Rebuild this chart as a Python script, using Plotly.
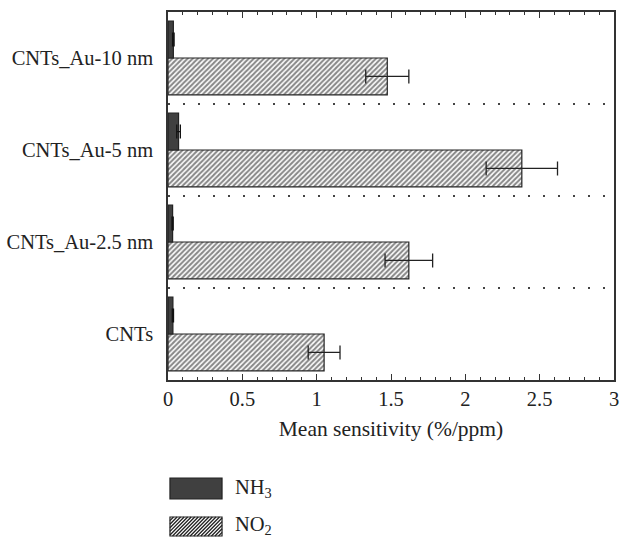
import plotly.graph_objects as go

categories = ["CNTs", "CNTs_Au-2.5 nm", "CNTs_Au-5 nm", "CNTs_Au-10 nm"]
no2_values = [1.05, 1.62, 2.38, 1.475]
no2_errors = [0.107, 0.16, 0.24, 0.145]
nh3_values = [0.033, 0.031, 0.071, 0.036]
nh3_errors = [0.004, 0.004, 0.012, 0.005]
x_ticks = [0, 0.5, 1, 1.5, 2, 2.5, 3]
x_tick_labels = ["0", "0.5", "1", "1.5", "2", "2.5", "3"]
series_names = ["NH<sub>3</sub>", "NO<sub>2</sub>"]

W, H = 626, 538
L, R, T, B = 165, 7, 12, 158
FONT = "Liberation Serif"
FS = 20.5
AX = "#333333"

fig = go.Figure()
fig.add_trace(go.Bar(
    y=categories, x=no2_values, orientation="h", name="NO2",
    marker=dict(color="white", line=dict(color="#222", width=1.2),
                pattern=dict(shape="/", size=3.6, solidity=0.55, fgcolor="#111", bgcolor="white")),
    error_x=dict(type="data", array=no2_errors, color="#222", thickness=1.3, width=7),
    showlegend=False,
))
fig.add_trace(go.Bar(
    y=categories, x=nh3_values, orientation="h", name="NH3",
    marker=dict(color="#404040", line=dict(color="#222", width=1.2)),
    error_x=dict(type="data", array=nh3_errors, color="#111", thickness=1.3, width=7),
    showlegend=False,
))

# helper: pixel -> paper
def px(x):
    return (x - L) / (W - L - R)

def py(y):
    return (H - B - y) / (H - T - B)

shapes = []
sx0, sx1 = 167, 220
ny0, ny1 = 478, 499
oy0, oy1 = 517, 536
shapes.append(dict(type="rect", xref="paper", yref="paper",
                   x0=px(sx0), x1=px(sx1), y0=py(ny1), y1=py(ny0),
                   fillcolor="#404040", line=dict(color="#222", width=1.2)))
segs = []
step = 3.6
h = oy1 - oy0
k = sx0 - h
while k < sx1:
    xa, ya = k, oy1
    xb, yb = k + h, oy0
    if xa < sx0:
        ya = oy1 - (sx0 - k)
        xa = sx0
    if xb > sx1:
        yb = oy0 + (xb - sx1)
        xb = sx1
    if xb > xa:
        segs.append(f"M{px(xa)},{py(ya)}L{px(xb)},{py(yb)}")
    k += step
shapes.append(dict(type="path", xref="paper", yref="paper", path="".join(segs),
                   line=dict(color="#222", width=1.3)))
shapes.append(dict(type="rect", xref="paper", yref="paper",
                   x0=px(sx0), x1=px(sx1), y0=py(oy1), y1=py(oy0),
                   fillcolor="rgba(0,0,0,0)", line=dict(color="#222", width=1.2)))

annotations = [
    dict(xref="paper", yref="paper", x=px(231), y=py((ny0 + ny1) / 2), text=series_names[0],
         showarrow=False, xanchor="left", yanchor="middle", font=dict(family=FONT, size=FS, color="#222")),
    dict(xref="paper", yref="paper", x=px(231), y=py((oy0 + oy1) / 2 - 1), text=series_names[1],
         showarrow=False, xanchor="left", yanchor="middle", font=dict(family=FONT, size=FS, color="#222")),
]

fig.update_layout(
    width=W, height=H,
    margin=dict(l=L, r=R, t=T, b=B, pad=0),
    paper_bgcolor="white", plot_bgcolor="white",
    barmode="group", bargap=0.2, bargroupgap=0,
    font=dict(family=FONT, size=FS, color="#222"),
    showlegend=False,
    shapes=shapes, annotations=annotations,
    xaxis=dict(
        range=[0, 3], tickvals=x_ticks, ticktext=x_tick_labels,
        ticks="inside", ticklen=6, tickwidth=1.2, tickcolor=AX,
        minor=dict(dtick=0.1, ticks="inside", ticklen=3, tickwidth=1.2, tickcolor=AX, showgrid=False),
        showline=True, linecolor=AX, linewidth=1.5, mirror="ticks",
        showgrid=False, zeroline=False,
        title=dict(text="Mean sensitivity (%/ppm)", standoff=12, font=dict(family=FONT, size=21.5)),
        tickfont=dict(family=FONT, size=FS),
    ),
    yaxis=dict(
        type="category", categoryorder="array", categoryarray=categories,
        range=[-0.5, 3.5],
        ticks="", tickson="boundaries",
        showgrid=True, griddash="1.5px,13.5px", gridcolor="#444", gridwidth=1.5,
        showline=True, linecolor=AX, linewidth=1.5, mirror=True,
        zeroline=False, ticklabelstandoff=9,
        tickfont=dict(family=FONT, size=FS),
    ),
    yaxis2=dict(
        overlaying="y", side="right", range=[-0.5, 3.5],
        tickvals=[0, 1, 2, 3], ticks="inside", ticklen=6, tickwidth=1.2, tickcolor=AX,
        showticklabels=False, showgrid=False, zeroline=False, showline=False,
    ),
)

fig.write_html("out.html", config={"displayModeBar": False},
               post_script="document.body.style.margin='0';document.body.style.overflow='hidden';")
